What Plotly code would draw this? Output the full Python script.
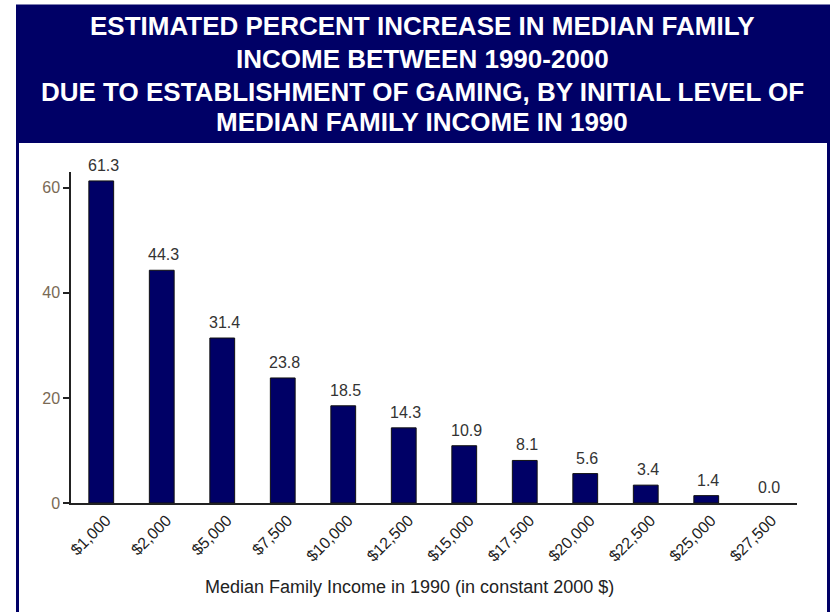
import plotly.graph_objects as go

categories = ["$1,000", "$2,000", "$5,000", "$7,500", "$10,000", "$12,500",
              "$15,000", "$17,500", "$20,000", "$22,500", "$25,000", "$27,500"]
values = [61.3, 44.3, 31.4, 23.8, 18.5, 14.3, 10.9, 8.1, 5.6, 3.4, 1.4, 0.0]
y_ticks = [0, 20, 40, 60]
title_lines = [
    "ESTIMATED PERCENT INCREASE IN MEDIAN FAMILY",
    "INCOME BETWEEN 1990-2000",
    "DUE TO ESTABLISHMENT OF GAMING, BY INITIAL LEVEL OF",
    "MEDIAN FAMILY INCOME IN 1990",
]
x_title = "Median Family Income in 1990 (in constant 2000 $)"

NAVY = "#000066"
FONT = "Liberation Sans, Arial, sans-serif"
W, H = 833, 612
L, R, T, B = 71, 36, 172, 109
PW = W - L - R
PH = H - T - B


def px(x):
    return (x - L) / PW


def py(y):
    return (H - B - y) / PH


fig = go.Figure()
fig.add_trace(go.Bar(
    x=categories, y=values,
    marker=dict(color=NAVY, line=dict(color="#111111",
                                      width=[1 if v > 0 else 0 for v in values])),
    cliponaxis=False,
    width=0.41,
))

shapes = [
    dict(type="rect", xref="paper", yref="paper",
         x0=px(16), x1=px(829), y0=py(143), y1=py(5),
         fillcolor=NAVY, line=dict(width=0), layer="below"),
    dict(type="rect", xref="paper", yref="paper",
         x0=px(17.5), x1=px(828.5), y0=py(625), y1=py(6),
         fillcolor="rgba(0,0,0,0)", line=dict(color=NAVY, width=3), layer="below"),
    dict(type="line", xref="paper", yref="y",
         x0=px(65), x1=px(71), y0=0, y1=0,
         line=dict(color="#222222", width=1.5)),
]

annotations = []
for cat, v in zip(categories, values):
    annotations.append(dict(
        x=cat, y=v, xref="x", yref="y", text=f"{v:.1f}",
        showarrow=False, xanchor="center", yanchor="bottom", yshift=5, xshift=2,
        font=dict(family=FONT, size=16, color="#333333"),
    ))
centers = [26, 59, 92, 122]
for line, cy in zip(title_lines, centers):
    annotations.append(dict(
        text=f"<b>{line}</b>", xref="paper", yref="paper",
        x=px(422), y=py(cy), xanchor="center", yanchor="middle",
        showarrow=False,
        font=dict(family=FONT, size=26, color="white"),
    ))
annotations.append(dict(
    text=x_title, xref="paper", yref="paper",
    x=px(409), y=py(587), xanchor="center", yanchor="middle",
    showarrow=False,
    font=dict(family=FONT, size=18, color="#222222"),
))

fig.update_layout(
    width=W, height=H,
    margin=dict(l=L, r=R, t=T, b=B, autoexpand=False),
    paper_bgcolor="white", plot_bgcolor="white",
    showlegend=False,
    shapes=shapes,
    annotations=annotations,
    xaxis=dict(
        type="category",
        tickangle=-45,
        tickfont=dict(family=FONT, size=16, color="#222222"),
        ticklabelshift=5,
        showline=True, linecolor="#222222", linewidth=1.5,
        showgrid=False, ticks="", automargin=False,
    ),
    yaxis=dict(
        range=[0, 63],
        tickvals=y_ticks,
        tickfont=dict(family=FONT, size=16, color="#7a6a55"),
        showline=True, linecolor="#222222", linewidth=1.5,
        ticks="outside", ticklen=6, tickcolor="#222222", tickwidth=1.5,
        showgrid=False, zeroline=False, automargin=False,
    ),
)

fig.write_html("out.html", config={"displayModeBar": False},
               post_script="document.body.style.margin='0px';")
